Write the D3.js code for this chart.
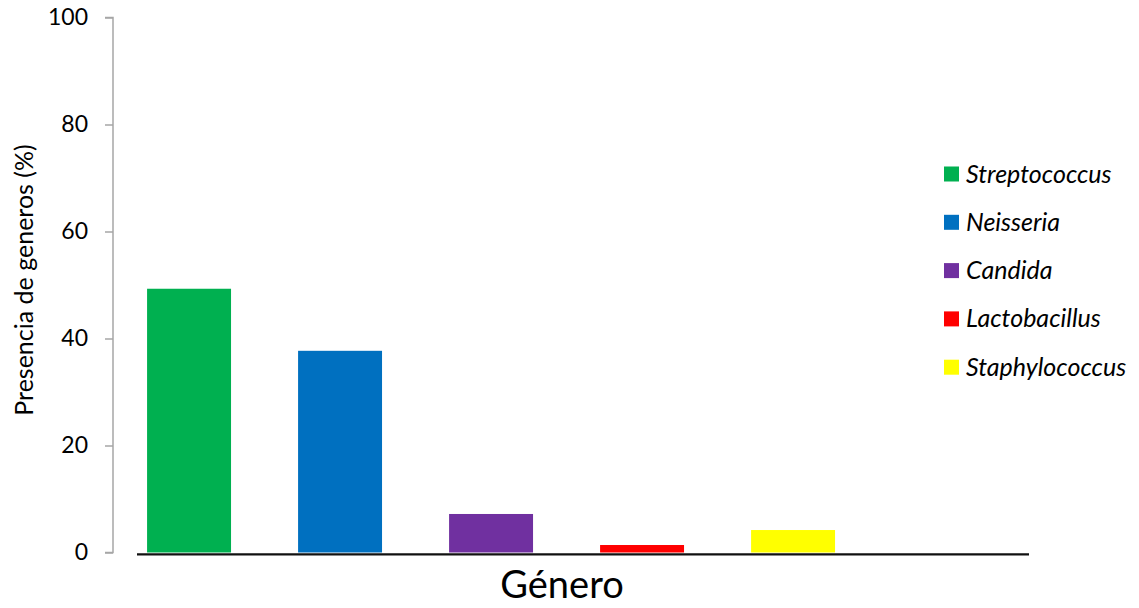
<!DOCTYPE html>
<html>
<head>
<meta charset="utf-8">
<script src="https://cdn.jsdelivr.net/npm/d3@7"></script>
<style>
  html, body { margin: 0; padding: 0; background: #fff; }
  svg { display: block; font-family: Lato, "Open Sans", sans-serif; }
</style>
</head>
<body>
<svg id="chart" width="1139" height="608"></svg>
<script>
// Genus presence data
const genera = ["Streptococcus", "Neisseria", "Candida", "Lactobacillus", "Staphylococcus"];
const presence = [49.3, 37.7, 7.2, 1.4, 4.2];
const colors = ["#00B050", "#0070C0", "#7030A0", "#FF0000", "#FFFF00"];
const yTicks = [0, 20, 40, 60, 80, 100];
// one trailing empty slot on the category axis
const slots = genera.concat([""]);

const svg = d3.select("#chart");

const plot = { left: 137, right: 1029, top: 17.5, bottom: 552.5 };

const x = d3.scaleBand()
  .domain(slots)
  .range([plot.left, plot.right])
  .paddingInner(0.444)
  .paddingOuter(0.1756)
  .align(0.19);

const y = d3.scaleLinear()
  .domain([0, 100])
  .range([plot.bottom, plot.top]);

// Bars
svg.append("g")
  .selectAll("rect")
  .data(genera)
  .join("rect")
  .attr("x", d => x(d))
  .attr("width", x.bandwidth())
  .attr("y", (d, i) => y(presence[i]))
  .attr("height", (d, i) => y(0) - y(presence[i]))
  .attr("fill", (d, i) => colors[i]);

// Y axis
const yAxis = d3.axisLeft(y)
  .tickValues(yTicks)
  .tickSize(8)
  .tickPadding(17)
  .tickFormat(d3.format("d"));

const gy = svg.append("g")
  .attr("transform", "translate(113,0)")
  .call(yAxis);
gy.select(".domain").attr("stroke", "#A6A6A6").attr("stroke-width", 1.5)
  .attr("d", `M-8,${y(100)}H0V${y(0)}H-8`);
gy.selectAll(".tick line").attr("stroke", "#A6A6A6").attr("stroke-width", 1.5);
gy.selectAll(".tick text")
  .attr("fill", "#000")
  .attr("font-size", 23)
  .attr("font-family", "Lato, 'Open Sans', sans-serif");

// X axis baseline
svg.append("line")
  .attr("x1", plot.left)
  .attr("x2", plot.right)
  .attr("y1", y(0) + 1.8)
  .attr("y2", y(0) + 1.8)
  .attr("stroke", "#111")
  .attr("stroke-width", 2.2);

// Axis titles
svg.append("text")
  .attr("transform", `translate(33,280) rotate(-90)`)
  .attr("text-anchor", "middle")
  .attr("font-size", 25)
  .attr("fill", "#000")
  .text("Presencia de generos (%)");

svg.append("text")
  .attr("x", 562)
  .attr("y", 598)
  .attr("text-anchor", "middle")
  .attr("font-size", 38)
  .attr("fill", "#000")
  .text("Género");

// Legend
const legend = svg.append("g").attr("transform", "translate(944,174)");
const rows = legend.selectAll("g")
  .data(genera)
  .join("g")
  .attr("transform", (d, i) => `translate(0,${i * 48.3})`);
rows.append("rect")
  .attr("x", 0)
  .attr("y", -7.5)
  .attr("width", 15)
  .attr("height", 15)
  .attr("fill", (d, i) => colors[i]);
rows.append("text")
  .attr("x", 22)
  .attr("y", 8.5)
  .attr("font-size", 25)
  .attr("font-style", "italic")
  .attr("fill", "#000")
  .text(d => d);
</script>
</body>
</html>
